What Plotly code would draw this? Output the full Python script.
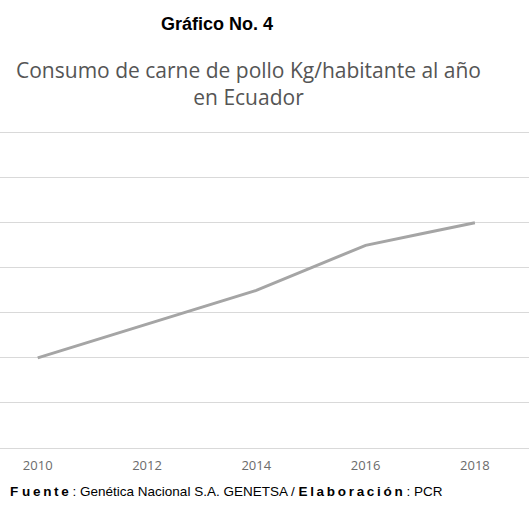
import plotly.graph_objects as go

years = [2010, 2011, 2012, 2013, 2014, 2015, 2016, 2017, 2018]
consumo = [24.0, 24.75, 25.5, 26.25, 27.0, 28.0, 29.0, 29.5, 30.0]
x_ticks = [2010, 2012, 2014, 2016, 2018]

W, H = 529, 509
top_px, bot_px = 126, 447.7
ph = bot_px - top_px

def py(p):
    return (bot_px - p) / ph

ts = "\u2009"
fuente = "F " + ts.join("uente")
elab = ts.join("Elaboración")

fig = go.Figure()
fig.add_trace(go.Scatter(
    x=years, y=consumo, mode="lines",
    line=dict(color="#a5a5a5", width=3),
    hoverinfo="skip", showlegend=False,
))

fig.update_layout(
    width=W, height=H,
    margin=dict(l=0, r=0, t=top_px, b=H - bot_px),
    paper_bgcolor="white", plot_bgcolor="white",
    xaxis=dict(
        range=[2009.31, 2018.99], tickvals=x_ticks,
        showgrid=False, zeroline=False,
        showline=True, linecolor="#d9d9d9", linewidth=1,
        tickfont=dict(family="Open Sans", size=13, color="#6b6b6b"),
        ticks="", ticklabelstandoff=5,
    ),
    yaxis=dict(
        range=[20, 34.3], dtick=2, tick0=20,
        showgrid=True, gridcolor="#d9d9d9", gridwidth=1,
        zeroline=False, showticklabels=False, ticks="",
    ),
    annotations=[
        dict(text="<b>Gráfico No. 4</b>", xref="paper", yref="paper",
             x=217 / W, y=py(24), xanchor="center", yanchor="middle",
             showarrow=False,
             font=dict(family="Liberation Sans", size=18, color="#000000")),
        dict(text="Consumo de carne de pollo Kg/habitante al año<br>en Ecuador",
             xref="paper", yref="paper",
             x=248 / W, y=py(84), xanchor="center", yanchor="middle",
             showarrow=False, align="center",
             font=dict(family="Open Sans", size=21, color="#555555")),
        dict(text="<b>" + fuente + "</b> : Genética Nacional S.A. GENETSA / <b>" + elab + "</b> : PCR",
             xref="paper", yref="paper",
             x=8 / W, y=py(491), xanchor="left", yanchor="middle",
             showarrow=False,
             font=dict(family="Liberation Sans", size=13.5, color="#000000")),
    ],
)

fig.write_html("out.html", config={"displayModeBar": False},
               post_script="document.body.style.margin='0';")
